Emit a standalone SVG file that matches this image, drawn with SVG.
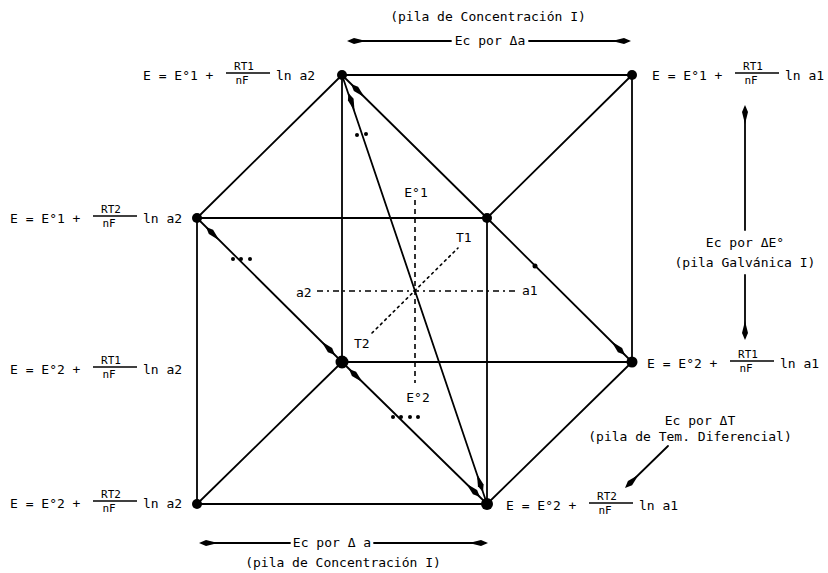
<svg xmlns="http://www.w3.org/2000/svg" xmlns:xlink="http://www.w3.org/1999/xlink" width="828" height="573" viewBox="0 0 828 573">
<style>
.t{font-family:"DejaVu Sans Mono","Liberation Mono",monospace;font-size:13px;fill:#000}
.fr{font-family:"DejaVu Sans Mono","Liberation Mono",monospace;font-size:11px;fill:#000;text-anchor:middle}
.c{text-anchor:middle}
.frl{stroke:#000;stroke-width:1.3}
.e{stroke:#000;stroke-width:1.8;fill:none;stroke-linecap:round}
.dash{stroke:#000;stroke-width:1.6;fill:none;stroke-dasharray:5 4}
.dashdot{stroke:#000;stroke-width:1.6;fill:none;stroke-dasharray:6 4 2 4}
.dot{stroke:#000;stroke-width:1.6;fill:none;stroke-dasharray:2 4;stroke-linecap:round}
.n{fill:#000}
</style>
<defs>
<polygon id="ah" points="0,0 -7,-3 -19,0 -7,3" fill="#000"/>
</defs>
<rect width="828" height="573" fill="#fff"/>
<g id="connectors">
<line class="e" x1="342" y1="75" x2="632" y2="75"/>
<line class="e" x1="197" y1="218" x2="487" y2="218"/>
<line class="e" x1="342" y1="362" x2="632" y2="362"/>
<line class="e" x1="197" y1="504" x2="487" y2="504"/>
<line class="e" x1="342" y1="75" x2="342" y2="362"/>
<line class="e" x1="632" y1="75" x2="632" y2="362"/>
<line class="e" x1="197" y1="218" x2="197" y2="504"/>
<line class="e" x1="487" y1="218" x2="487" y2="504"/>
<line class="e" x1="197" y1="218" x2="342" y2="75"/>
<line class="e" x1="487" y1="218" x2="632" y2="75"/>
<line class="e" x1="197" y1="504" x2="342" y2="362"/>
<line class="e" x1="487" y1="504" x2="632" y2="362"/>
<line class="e" x1="342" y1="75" x2="487" y2="218"/>
<line class="e" x1="342" y1="75" x2="487" y2="504"/>
<line class="e" x1="197" y1="218" x2="342" y2="362"/>
<line class="e" x1="342" y1="362" x2="487" y2="504"/>
<line class="e" x1="487" y1="218" x2="632" y2="362"/>
<use xlink:href="#ah" transform="translate(348.5,93) rotate(-108.7)"/>
<use xlink:href="#ah" transform="translate(483,492) rotate(71.3)"/>
<use xlink:href="#ah" transform="translate(351,84) rotate(-135.4)"/>
<use xlink:href="#ah" transform="translate(206,227) rotate(-135.2)"/>
<use xlink:href="#ah" transform="translate(335,355) rotate(44.8)"/>
<use xlink:href="#ah" transform="translate(349,369) rotate(-135.6)"/>
<use xlink:href="#ah" transform="translate(480,497) rotate(44.4)"/>
<use xlink:href="#ah" transform="translate(625,355) rotate(44.8)"/>
<circle class="n" cx="357" cy="135" r="2"/>
<circle class="n" cx="366" cy="134" r="2"/>
<circle class="n" cx="233" cy="259" r="2"/>
<circle class="n" cx="241" cy="259" r="2"/>
<circle class="n" cx="250" cy="259" r="2"/>
<circle class="n" cx="393" cy="417" r="2"/>
<circle class="n" cx="401" cy="417" r="2"/>
<circle class="n" cx="410" cy="417" r="2"/>
<circle class="n" cx="418" cy="417" r="2"/>
<circle class="n" cx="535" cy="266" r="2.5"/>
<line class="dash" x1="415" y1="200" x2="415" y2="383"/>
<line class="dashdot" x1="317" y1="291" x2="517" y2="291"/>
<line class="dot" x1="372" y1="333" x2="458" y2="248"/>
<line class="e" x1="350" y1="41" x2="451" y2="41"/>
<line class="e" x1="529" y1="41" x2="628" y2="41"/>
<use xlink:href="#ah" transform="translate(347,41) rotate(180)"/>
<use xlink:href="#ah" transform="translate(631,41)"/>
<line class="e" x1="203" y1="543" x2="290" y2="543"/>
<line class="e" x1="374" y1="543" x2="485" y2="543"/>
<use xlink:href="#ah" transform="translate(199,543) rotate(180)"/>
<use xlink:href="#ah" transform="translate(488,543)"/>
<line class="e" x1="745" y1="108" x2="745" y2="230"/>
<line class="e" x1="745" y1="275" x2="745" y2="337"/>
<use xlink:href="#ah" transform="translate(745,105) rotate(-90)"/>
<use xlink:href="#ah" transform="translate(745,340) rotate(90)"/>
<line class="e" x1="668" y1="446" x2="628" y2="485"/>
<use xlink:href="#ah" transform="translate(625,488) rotate(135.7)"/>
</g>
<g id="axes-labels">
<text class="t c" x="416" y="197">E°1</text>
<text class="t c" x="418" y="402">E°2</text>
<text class="t" x="296" y="297">a2</text>
<text class="t" x="522" y="295">a1</text>
<text class="t" x="456" y="242">T1</text>
<text class="t" x="354" y="348">T2</text>
</g>
<g id="captions">
<text class="t c" x="488" y="21">(pila de Concentración I)</text>
<text class="t c" x="490" y="45">Ec por Δa</text>
<text class="t c" x="332" y="547">Ec por Δ a</text>
<text class="t c" x="343" y="567">(pila de Concentración I)</text>
<text class="t c" x="745" y="247">Ec por ΔE°</text>
<text class="t c" x="745" y="267">(pila Galvánica I)</text>
<text class="t c" x="700" y="425">Ec por ΔT</text>
<text class="t c" x="690" y="441">(pila de Tem. Diferencial)</text>
</g>
<g id="node-A">
<circle class="n" cx="342" cy="75" r="5"/>
<g transform="translate(143,75)">
<text class="t" x="0" y="5">E = E°1 +</text>
<text class="fr" x="101" y="-5">RT1</text>
<line class="frl" x1="83" y1="-2" x2="127" y2="-2"/>
<text class="fr" x="99" y="9">nF</text>
<text class="t" x="133" y="5">ln a2</text>
</g>
</g>
<g id="node-B">
<circle class="n" cx="632" cy="75" r="5"/>
<g transform="translate(652,75)">
<text class="t" x="0" y="5">E = E°1 +</text>
<text class="fr" x="101" y="-5">RT1</text>
<line class="frl" x1="83" y1="-2" x2="127" y2="-2"/>
<text class="fr" x="99" y="9">nF</text>
<text class="t" x="133" y="5">ln a1</text>
</g>
</g>
<g id="node-C">
<circle class="n" cx="197" cy="218" r="5"/>
<g transform="translate(10,218)">
<text class="t" x="0" y="5">E = E°1 +</text>
<text class="fr" x="101" y="-5">RT2</text>
<line class="frl" x1="83" y1="-2" x2="127" y2="-2"/>
<text class="fr" x="99" y="9">nF</text>
<text class="t" x="133" y="5">ln a2</text>
</g>
</g>
<g id="node-D">
<circle class="n" cx="487" cy="218" r="5"/>
</g>
<g id="node-G">
<circle class="n" cx="342" cy="362" r="6.5"/>
<g transform="translate(10,369)">
<text class="t" x="0" y="5">E = E°2 +</text>
<text class="fr" x="101" y="-5">RT1</text>
<line class="frl" x1="83" y1="-2" x2="127" y2="-2"/>
<text class="fr" x="99" y="9">nF</text>
<text class="t" x="133" y="5">ln a2</text>
</g>
</g>
<g id="node-F">
<circle class="n" cx="632" cy="362" r="5.5"/>
<g transform="translate(647,363)">
<text class="t" x="0" y="5">E = E°2 +</text>
<text class="fr" x="101" y="-5">RT1</text>
<line class="frl" x1="83" y1="-2" x2="127" y2="-2"/>
<text class="fr" x="99" y="9">nF</text>
<text class="t" x="133" y="5">ln a1</text>
</g>
</g>
<g id="node-H">
<circle class="n" cx="197" cy="504" r="5"/>
<g transform="translate(10,503)">
<text class="t" x="0" y="5">E = E°2 +</text>
<text class="fr" x="101" y="-5">RT2</text>
<line class="frl" x1="83" y1="-2" x2="127" y2="-2"/>
<text class="fr" x="99" y="9">nF</text>
<text class="t" x="133" y="5">ln a2</text>
</g>
</g>
<g id="node-E">
<circle class="n" cx="487" cy="504" r="6"/>
<g transform="translate(506,505)">
<text class="t" x="0" y="5">E = E°2 +</text>
<text class="fr" x="101" y="-5">RT2</text>
<line class="frl" x1="83" y1="-2" x2="127" y2="-2"/>
<text class="fr" x="99" y="9">nF</text>
<text class="t" x="133" y="5">ln a1</text>
</g>
</g>
</svg>
